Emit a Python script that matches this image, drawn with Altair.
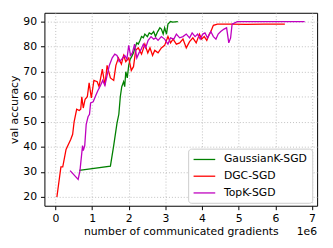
import altair as alt
import pandas as pd

# x values in units of 1e6 communicated gradients
gauss_x = [0.65, 1.5, 1.59, 1.68, 1.73, 1.77, 1.81, 1.86, 1.89, 1.92, 1.96, 2.0, 2.04, 2.08,
           2.13, 2.17, 2.22, 2.26, 2.31, 2.35, 2.4, 2.44, 2.51, 2.56, 2.62, 2.68, 2.73, 2.79,
           2.85, 2.89, 2.94, 2.98, 3.03, 3.07, 3.14, 3.2, 3.34]
gauss_y = [30.6, 32.3, 40.5, 49.5, 53, 60, 64, 66, 64, 70, 67.5, 72.5, 75, 76,
           77.5, 79.5, 81.5, 81, 82.5, 84, 83.5, 85, 84, 85.5, 85, 86, 84, 86,
           87.5, 87, 85, 87.5, 85, 89, 90, 89.8, 90]

dgc_x = [0.04, 0.15, 0.2, 0.29, 0.42, 0.47, 0.51, 0.58, 0.65, 0.69, 0.72, 0.76, 0.81, 0.87,
         0.92, 0.98, 1.05, 1.14, 1.19, 1.28, 1.35, 1.41, 1.5, 1.59, 1.65, 1.72, 1.8, 1.86,
         1.92, 2.0, 2.07, 2.13, 2.19, 2.26, 2.35, 2.44, 2.52, 2.58, 2.65, 2.71, 2.8, 2.89,
         2.98, 3.07, 3.14, 3.21, 3.3, 3.39, 3.48, 3.57, 3.66, 3.75, 3.84, 3.93, 3.99, 4.06,
         4.13, 4.2, 4.24, 4.31, 4.42, 4.78, 5.2, 5.7, 6.26]
dgc_y = [20, 32, 32, 39, 43, 45, 50, 55, 54.5, 55, 60, 55.5, 59, 60,
         65.5, 59.5, 66.5, 66, 64, 71, 64.5, 72.5, 67.5, 66.5, 72.5, 75.5, 73, 76.5,
         74, 75.5, 70.5, 72, 78.5, 79.5, 77, 81, 77.5, 79.5, 76.5, 78.5, 77.5, 79.5,
         80.5, 84, 81.5, 83, 81, 81.5, 83, 79.5, 82, 83.5, 81.5, 85, 83, 84,
         82.5, 85, 86, 88.5, 89, 89, 88.9, 89, 89]

topk_x = [0.4, 0.62, 0.67, 0.74, 0.76, 0.8, 0.84, 0.89, 0.93, 0.96, 1.03, 1.1, 1.16, 1.23,
          1.29, 1.35, 1.41, 1.47, 1.55, 1.62, 1.68, 1.74, 1.81, 1.89, 1.95, 2.0, 2.05, 2.1,
          2.16, 2.22, 2.28, 2.34, 2.4, 2.46, 2.53, 2.61, 2.68, 2.74, 2.8, 2.89, 2.98, 3.07,
          3.14, 3.23, 3.3, 3.39, 3.48, 3.57, 3.66, 3.73, 3.81, 3.88, 3.95, 4.02, 4.08, 4.15,
          4.24, 4.31, 4.38, 4.44, 4.51, 4.6, 4.67, 4.73, 4.78, 4.82, 4.96, 5.32, 5.68, 6.22, 6.8]
topk_y = [30.5, 27, 30.5, 40.5, 38.5, 40.5, 49, 52, 53, 57.5, 58, 60.5, 62.5, 64.5,
          66.5, 64.5, 68.5, 72.5, 75.5, 77, 76.5, 74, 75, 76.5, 75, 80.5, 76.5, 77.5,
          81, 75.5, 77.5, 79, 81, 79.5, 82.5, 84, 83, 83.5, 82.5, 84, 83, 81,
          83.5, 83, 85, 83.5, 84, 85, 83.5, 85.5, 84, 85, 83, 85, 85.5, 83.5,
          86, 84, 83, 85, 86, 87, 87.5, 81.5, 83.5, 89, 90, 90, 90, 90, 90]

names = ["GaussianK-SGD", "DGC-SGD", "TopK-SGD"]
colors = ["#008000", "#ff0000", "#bf00bf"]

dfs = [
    pd.DataFrame({"x": gauss_x, "y": gauss_y, "method": names[0]}),
    pd.DataFrame({"x": dgc_x, "y": dgc_y, "method": names[1]}),
    pd.DataFrame({"x": topk_x, "y": topk_y, "method": names[2]}),
]

W, H = 277, 196
FONT = "DejaVu Sans"

xscale = alt.Scale(domain=[-0.3, 7.14], nice=False, zero=False)
yscale = alt.Scale(domain=[16.5, 93.5], nice=False, zero=False)
cscale = alt.Scale(domain=names, range=colors)

xaxis = alt.Axis(values=list(range(0, 8)), title="number of communicated gradients",
                 format="d", tickSize=4, labelPadding=3, titlePadding=2,
                 labelFont=FONT, titleFont=FONT)
yaxis = alt.Axis(values=list(range(20, 100, 10)), title="val accuracy",
                 tickSize=4, labelPadding=4, titlePadding=3,
                 labelFont=FONT, titleFont=FONT)

legend = alt.Legend(
    title=None, orient="none", legendX=146, legendY=138,
    symbolType="M-1,0H3", symbolSize=121, symbolStrokeWidth=1.3,
    labelOffset=18.8, labelFontSize=11, labelFont=FONT, labelColor="black",
    padding=4.5, rowPadding=5, strokeColor="#cccccc", fillColor="white",
    cornerRadius=3, labelLimit=200,
)

layers = []
for i, df in enumerate(dfs):
    layers.append(
        alt.Chart(df).mark_line(strokeWidth=1.3).encode(
            x=alt.X("x:Q", scale=xscale, axis=xaxis),
            y=alt.Y("y:Q", scale=yscale, axis=yaxis),
            color=alt.Color("method:N", scale=cscale, legend=legend),
            order=alt.value(i),
        )
    )

exp_label = alt.Chart(pd.DataFrame({"t": ["1e6"]})).mark_text(
    align="right", baseline="alphabetic", font=FONT, fontSize=11, color="black"
).encode(x=alt.value(W), y=alt.value(H + 30), text="t:N")

chart = alt.layer(*layers, exp_label).properties(
    width=W, height=H,
    autosize=alt.AutoSizeParams(type="none"),
    padding={"left": 37, "top": 3, "right": 8, "bottom": 37},
).configure(
    font=FONT
).configure_view(
    stroke="black", strokeWidth=1
).configure_axis(
    grid=True, gridColor="#b0b0b0", gridDash=[1, 2], gridWidth=0.8,
    domain=False, tickColor="black", labelColor="black", titleColor="black",
    labelFont=FONT, titleFont=FONT, labelFontSize=11, titleFontSize=11,
    titleFontWeight="normal",
)

chart.save("out.html", embed_options={"renderer": "svg", "actions": False})
